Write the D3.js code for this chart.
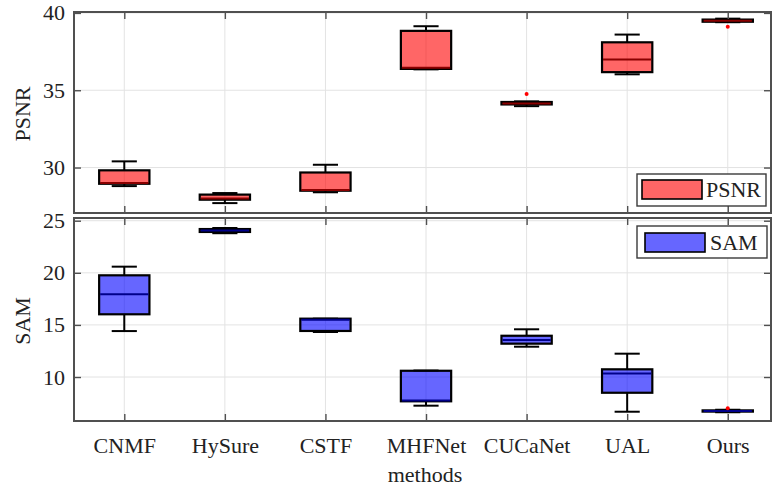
<!DOCTYPE html>
<html>
<head>
<meta charset="utf-8">
<script src="https://cdn.jsdelivr.net/npm/d3@7"></script>
<style>
  html, body { margin: 0; padding: 0; background: #fff; }
  svg { display: block; font-family: "Liberation Serif", "Times New Roman", serif; }
</style>
</head>
<body>
<svg id="chart" width="775" height="488"></svg>
<script>
// ---------------- data ----------------
const methods = ["CNMF", "HySure", "CSTF", "MHFNet", "CUCaNet", "UAL", "Ours"];

// PSNR box statistics (lower whisker, Q1, median, Q3, upper whisker)
const psnrLow  = [28.80, 27.70, 28.40, 36.35, 33.97, 36.03, 39.40];
const psnrQ1   = [28.95, 27.92, 28.50, 36.38, 34.08, 36.17, 39.43];
const psnrMed  = [29.00, 28.00, 28.55, 36.45, 34.15, 36.98, 39.50];
const psnrQ3   = [29.82, 28.25, 29.68, 38.84, 34.24, 38.10, 39.57];
const psnrHigh = [30.40, 28.35, 30.18, 39.14, 34.28, 38.60, 39.63];
const psnrOutliers = [[], [], [], [], [34.75], [], [39.10]];

// SAM box statistics
const samLow  = [14.41, 23.80, 14.32, 7.25, 12.91, 6.67, 6.62];
const samQ1   = [16.02, 23.92, 14.42, 7.67, 13.20, 8.49, 6.68];
const samMed  = [17.94, 24.05, 15.50, 7.75, 13.55, 10.35, 6.74];
const samQ3   = [19.76, 24.20, 15.60, 10.60, 13.96, 10.74, 6.80];
const samHigh = [20.59, 24.30, 15.60, 10.62, 14.58, 12.24, 6.86];
const samOutliers = [[], [], [], [], [], [], [7.00]];

const psnrTicks = [30, 35, 40];
const samTicks = [10, 15, 20, 25];

// ---------------- layout ----------------
const svg = d3.select("#chart");
const left = 74, right = 771;
const FONT = 22;

const x = d3.scaleLinear().domain([0.5, 7.43]).range([left, right]);

const panels = [
  { name: "PSNR", top: 12, bottom: 213, domain: [27.06, 40.06], ticks: psnrTicks,
    low: psnrLow, q1: psnrQ1, med: psnrMed, q3: psnrQ3, high: psnrHigh, out: psnrOutliers,
    fill: "#ff0000", medColor: "#8a0000", labelY: 114, legend: { x0: 637, y0: 174, x1: 766, y1: 206, px0: 642, py0: 180, px1: 702, py1: 199, tx: 706, ty: 197 } },
  { name: "SAM", top: 218, bottom: 421, domain: [5.78, 25.26], ticks: samTicks,
    low: samLow, q1: samQ1, med: samMed, q3: samQ3, high: samHigh, out: samOutliers,
    fill: "#0000ff", medColor: "#00008a", labelY: 321, legend: { x0: 637, y0: 226, x1: 767, y1: 258, px0: 645, py0: 233, px1: 705, py1: 252, tx: 710, ty: 250 } }
];

const frameColor = "#505050";
const gridColor = "#e3e3e3";

panels.forEach((p, pi) => {
  const y = d3.scaleLinear().domain(p.domain).range([p.bottom, p.top]);
  const g = svg.append("g");

  // grid
  g.selectAll(".vgrid").data(methods).enter().append("line")
    .attr("x1", (d, i) => x(i + 1)).attr("x2", (d, i) => x(i + 1))
    .attr("y1", p.top).attr("y2", p.bottom)
    .attr("stroke", gridColor).attr("stroke-width", 1);
  g.selectAll(".hgrid").data(p.ticks).enter().append("line")
    .attr("x1", left).attr("x2", right)
    .attr("y1", d => y(d)).attr("y2", d => y(d))
    .attr("stroke", gridColor).attr("stroke-width", 1);

  // boxes
  const boxHalf = (x(1.25) - x(0.75)) / 2;
  const capHalf = (x(1.125) - x(0.875)) / 2;
  const idx = d3.range(methods.length);
  const bg = g.selectAll(".box").data(idx).enter().append("g");

  // whiskers
  bg.append("line")
    .attr("x1", i => x(i + 1)).attr("x2", i => x(i + 1))
    .attr("y1", i => y(p.q3[i])).attr("y2", i => y(p.high[i]))
    .attr("stroke", "#000").attr("stroke-width", 2);
  bg.append("line")
    .attr("x1", i => x(i + 1)).attr("x2", i => x(i + 1))
    .attr("y1", i => y(p.q1[i])).attr("y2", i => y(p.low[i]))
    .attr("stroke", "#000").attr("stroke-width", 2);
  // caps
  bg.append("line")
    .attr("x1", i => x(i + 1) - capHalf).attr("x2", i => x(i + 1) + capHalf)
    .attr("y1", i => y(p.high[i])).attr("y2", i => y(p.high[i]))
    .attr("stroke", "#000").attr("stroke-width", 2);
  bg.append("line")
    .attr("x1", i => x(i + 1) - capHalf).attr("x2", i => x(i + 1) + capHalf)
    .attr("y1", i => y(p.low[i])).attr("y2", i => y(p.low[i]))
    .attr("stroke", "#000").attr("stroke-width", 2);
  // box
  bg.append("rect")
    .attr("x", i => x(i + 1) - boxHalf)
    .attr("width", boxHalf * 2)
    .attr("y", i => y(p.q3[i]))
    .attr("height", i => Math.max(1, y(p.q1[i]) - y(p.q3[i])))
    .attr("fill", p.fill).attr("fill-opacity", 0.6)
    .attr("stroke", "#000").attr("stroke-width", 2.2);
  // median
  bg.append("line")
    .attr("x1", i => x(i + 1) - boxHalf + 1).attr("x2", i => x(i + 1) + boxHalf - 1)
    .attr("y1", i => y(p.med[i])).attr("y2", i => y(p.med[i]))
    .attr("stroke", p.medColor).attr("stroke-width", 2);
  // outliers
  bg.each(function (i) {
    d3.select(this).selectAll("circle").data(p.out[i]).enter().append("circle")
      .attr("cx", x(i + 1)).attr("cy", v => y(v)).attr("r", 2)
      .attr("fill", "#ff0000");
  });

  // axes (inward ticks)
  const yAxis = d3.axisLeft(y).tickValues(p.ticks).tickSizeInner(-7).tickSizeOuter(0).tickPadding(9).tickFormat(d3.format("d"));
  const ya = g.append("g").attr("transform", `translate(${left},0)`).call(yAxis);
  const yAxisR = d3.axisRight(y).tickValues(p.ticks).tickSizeInner(-7).tickSizeOuter(0).tickFormat("");
  const yr = g.append("g").attr("transform", `translate(${right},0)`).call(yAxisR);
  const xAxisT = d3.axisTop(x).tickValues(d3.range(1, 8)).tickSizeInner(-7).tickSizeOuter(0).tickFormat("");
  const xt = g.append("g").attr("transform", `translate(0,${p.top})`).call(xAxisT);
  const xAxisB = d3.axisBottom(x).tickValues(d3.range(1, 8)).tickSizeInner(-7).tickSizeOuter(0).tickPadding(16)
    .tickFormat(pi === 1 ? (d => methods[d - 1]) : "");
  const xb = g.append("g").attr("transform", `translate(0,${p.bottom})`).call(xAxisB);

  [ya, yr, xt, xb].forEach(a => {
    a.select(".domain").remove();
    a.selectAll("line").attr("stroke", frameColor).attr("stroke-width", 1.4);
    a.selectAll("text").attr("fill", "#222").style("font-size", FONT + "px")
      .style("font-family", '"Liberation Serif", "Times New Roman", serif');
  });

  // frame
  g.append("rect").attr("x", left).attr("y", p.top)
    .attr("width", right - left).attr("height", p.bottom - p.top)
    .attr("fill", "none").attr("stroke", frameColor).attr("stroke-width", 2);

  // y label
  g.append("text")
    .attr("transform", `translate(30,${p.labelY}) rotate(-90)`)
    .attr("text-anchor", "middle")
    .attr("fill", "#222").style("font-size", FONT + "px")
    .text(p.name);

  // legend
  const L = p.legend;
  g.append("rect").attr("x", L.x0).attr("y", L.y0).attr("width", L.x1 - L.x0).attr("height", L.y1 - L.y0)
    .attr("fill", "#fff").attr("stroke", "#3a3a3a").attr("stroke-width", 1.4);
  g.append("rect").attr("x", L.px0).attr("y", L.py0).attr("width", L.px1 - L.px0).attr("height", L.py1 - L.py0)
    .attr("fill", p.fill).attr("fill-opacity", 0.6).attr("stroke", "#000").attr("stroke-width", 1.6);
  g.append("text").attr("x", L.tx).attr("y", L.ty).attr("fill", "#222")
    .style("font-size", FONT + "px").text(p.name);
});

// x label
svg.append("text").attr("x", 425).attr("y", 482).attr("text-anchor", "middle")
  .attr("fill", "#222").style("font-size", FONT + "px").text("methods");
</script>
</body>
</html>
